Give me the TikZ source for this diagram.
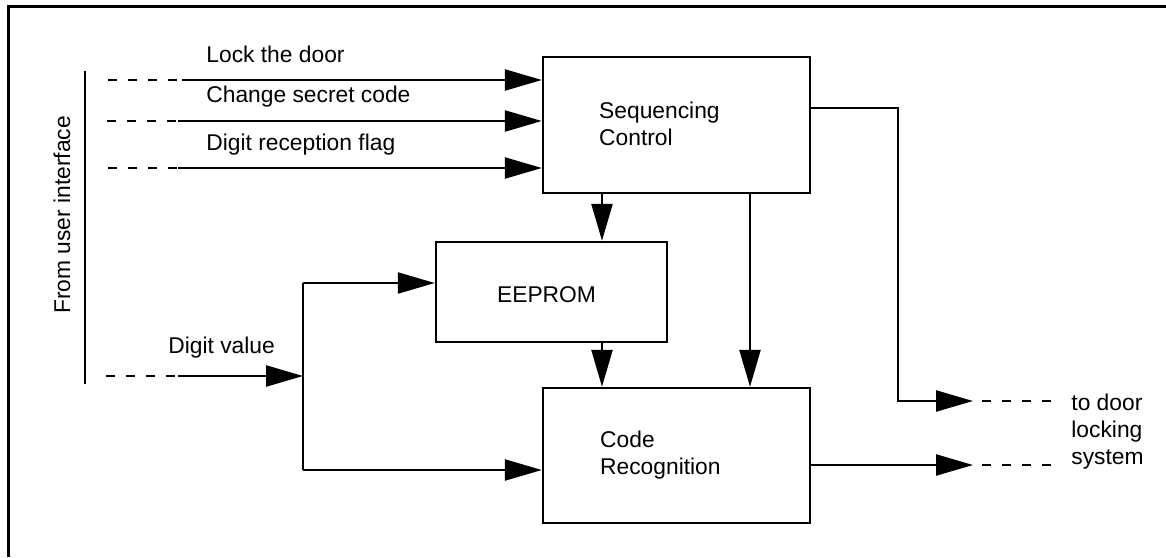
\documentclass[tikz,border=0pt]{standalone}
\usepackage{fontspec}
\setmainfont{Liberation Sans}
\usetikzlibrary{arrows.meta,calc}

\begin{document}
\begin{tikzpicture}[x=0.5pt,y=-0.5pt,>={Triangle[length=18.5pt,width=10.5pt]},
    line cap=butt,line join=miter,
    wire/.style={line width=1.2pt},
    dots/.style={line width=1.2pt,dash pattern=on 4.5pt off 5.5pt},
    block/.style={draw,line width=1.2pt,inner sep=0pt},
    lbl/.style={inner sep=0pt,font=\fontsize{11.4}{13.5}\selectfont},
    every node/.append style={lbl}]
    \useasboundingbox (0,0) rectangle (1166,557);

    % The frame, cut at the right and at the bottom.
    \draw[line width=1.5pt] (8,557) -- (8,6) -- (1166,6);

    % The three blocks.
    \node[block,minimum width=133.5pt,minimum height=68pt] (seq) at (676.5,125) {};
    \node[block,minimum width=115.5pt,minimum height=50pt] (eeprom) at (551.5,292) {};
    \node[block,minimum width=133.5pt,minimum height=67.5pt] (code) at (676.5,455.5) {};
    \node[anchor=west,align=left] (seqtext) at ($(seq.west)+(57,-1.5)$) {Sequencing\\Control};
    \node (eepromtext) at ($(eeprom.center)+(-5,3)$) {EEPROM};
    \node[anchor=west,align=left] (codetext) at ($(code.west)+(58,0)$) {Code\\Recognition};

    % The user interface side.
    \draw[wire] (85,71) -- (85,384);
    \node[rotate=90] (uitext) at (62,215) {From user interface};

    % Inputs to the sequencing control.
    \coordinate (lockin) at (108,80);
    \coordinate (codein) at (107,121);
    \coordinate (flagin) at (108,168);
    \draw[dots] (lockin) -- ++(74,0) coordinate (lockmid);
    \draw[dots] (codein) -- ++(71,0) coordinate (codemid);
    \draw[dots] (flagin) -- ++(70,0) coordinate (flagmid);
    \draw[wire,->] (lockmid) -- (lockmid -| seq.west);
    \draw[wire,->] (codemid) -- (codemid -| seq.west);
    \draw[wire,->] (flagmid) -- (flagmid -| seq.west);
    \node[anchor=west] (locktext) at (206,54) {Lock the door};
    \node[anchor=west] (codetxt) at (206,97) {Change secret code};
    \node[anchor=west] (flagtext) at (206,145) {Digit reception flag};

    % The digit value, split to both blocks.
    \coordinate (digitin) at (106,376);
    \coordinate (split) at (303,376);
    \coordinate (splittop) at (303,283);
    \coordinate (splitbot) at (303,470);
    \draw[dots] (digitin) -- ++(72,0) coordinate (digitmid);
    \draw[wire,->] (digitmid) -- (split);
    \draw[wire] (splittop) -- (splitbot);
    \draw[wire,->] (splittop) -- (splittop -| eeprom.west);
    \draw[wire,->] (splitbot) -- (splitbot -| code.west);
    \node[anchor=west] (digittext) at (168,348) {Digit value};

    % Links between the blocks.
    \coordinate (leftdown) at (602,0);
    \coordinate (rightdown) at (750,0);
    \draw[wire,->] (seq.south -| leftdown) -- (eeprom.north -| leftdown);
    \draw[wire,->] (eeprom.south -| leftdown) -- (code.north -| leftdown);
    \draw[wire,->] (seq.south -| rightdown) -- (code.north -| rightdown);

    % Outputs to the door locking system.
    \coordinate (lockturn) at (898,108);
    \coordinate (lockout) at (973,401);
    \coordinate (codeout) at (973,465);
    \draw[wire,->] (seq.east |- lockturn) -- (lockturn) |- (lockout);
    \draw[wire,->] (code.east |- codeout) -- (codeout);
    \draw[dots] ([xshift=4.5pt]lockout) -- ++(70,0);
    \draw[dots] ([xshift=4.5pt]codeout) -- ++(70,0);
    \node[anchor=west,align=left] (doortext) at (1071,432) {to door\\locking\\system};
\end{tikzpicture}
\end{document}
